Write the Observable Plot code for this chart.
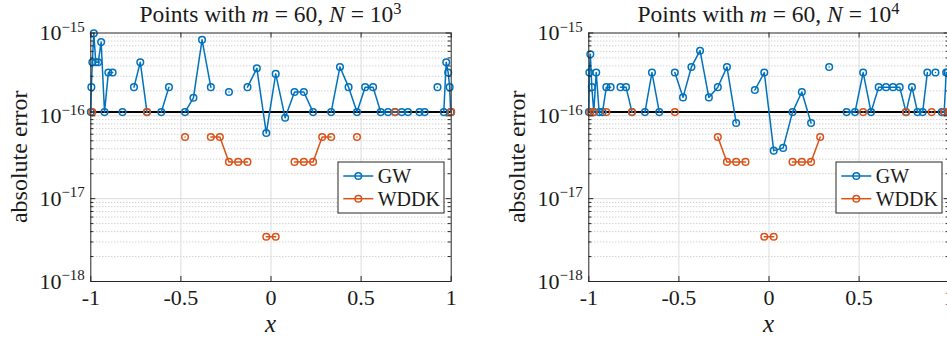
<!DOCTYPE html>
<html><head><meta charset="utf-8">
<script src="https://cdn.jsdelivr.net/npm/d3@7"></script>
<script src="https://cdn.jsdelivr.net/npm/@observablehq/plot@0.6"></script>
<style>
html,body{margin:0;padding:0;background:#fff;overflow:hidden;}
#wrap{position:relative;width:947px;height:339px;overflow:hidden;background:#fff;}
#wrap svg{position:absolute;top:0;max-width:none !important;}
#wrap svg text, #wrap svg tspan{font-family:'Liberation Serif','Times New Roman',serif !important;}
</style></head><body><div id="wrap"></div>
<script>
const _ = null; // zero error: not drawn on a log axis

// 60 evaluation points (ascending)
const nodes = [-0.99966,-0.99692,-0.99144,-0.98325,-0.97237,-0.95882,-0.94264,-0.92388,-0.90259,-0.87882,
  -0.85264,-0.82413,-0.79335,-0.76041,-0.72537,-0.68835,-0.64945,-0.60876,-0.56641,-0.52250,
  -0.47716,-0.43051,-0.38268,-0.33381,-0.28402,-0.23345,-0.18224,-0.13053,-0.07846,-0.02618,
  0.02618,0.07846,0.13053,0.18224,0.23345,0.28402,0.33381,0.38268,0.43051,0.47716,
  0.52250,0.56641,0.60876,0.64945,0.68835,0.72537,0.76041,0.79335,0.82413,0.85264,
  0.87882,0.90259,0.92388,0.94264,0.95882,0.97237,0.98325,0.99144,0.99692,0.99966];

// Panel 1: N = 10^3
const gwN3 = [1.11e-16,2.22e-16,4.44e-16,9.9e-16,4.44e-16,4.44e-16,7.77e-16,1.11e-16,3.33e-16,3.33e-16,
  _,1.11e-16,_,2.22e-16,4.44e-16,1.11e-16,_,1.11e-16,2.22e-16,_,
  1.11e-16,1.65e-16,8.27e-16,2.22e-16,_,1.94e-16,_,2.22e-16,3.75e-16,6.2e-17,
  3.21e-16,9.5e-17,1.94e-16,1.94e-16,1.11e-16,_,1.11e-16,3.89e-16,2.22e-16,1.11e-16,
  2.22e-16,2.22e-16,1.11e-16,1.11e-16,1.11e-16,1.11e-16,1.11e-16,_,1.11e-16,1.11e-16,
  _,_,2.22e-16,_,1.11e-16,4.44e-16,3.33e-16,2.22e-16,1.11e-16,1.11e-16];
const wddkN3 = [_,_,1.11e-16,_,_,_,_,_,_,_,
  _,_,_,_,_,1.11e-16,_,_,_,_,
  5.55e-17,_,_,5.55e-17,5.55e-17,2.78e-17,2.78e-17,2.78e-17,_,3.47e-18,
  3.47e-18,_,2.78e-17,2.78e-17,2.78e-17,5.55e-17,5.55e-17,_,_,5.55e-17,
  _,_,_,_,1.11e-16,_,_,_,_,_,
  _,_,_,_,_,_,_,_,_,1.11e-16];

// Panel 2: N = 10^4
const gwN4 = [1.11e-16,3.33e-16,5.55e-16,2.22e-16,1.11e-16,3.33e-16,1.11e-16,1.11e-16,2.22e-16,2.22e-16,
  _,2.22e-16,2.22e-16,1.11e-16,_,1.11e-16,3.33e-16,1.11e-16,_,3.33e-16,
  1.67e-16,3.89e-16,6.11e-16,1.67e-16,2.22e-16,3.89e-16,8.2e-17,_,2.05e-16,3.33e-16,
  3.8e-17,4.1e-17,1.11e-16,1.94e-16,8.2e-17,_,3.89e-16,_,1.11e-16,1.11e-16,
  3.33e-16,1.11e-16,2.22e-16,2.22e-16,2.22e-16,2.22e-16,1.11e-16,2.22e-16,1.11e-16,1.11e-16,
  3.33e-16,_,3.33e-16,_,1.11e-16,1.11e-16,3.33e-16,3.33e-16,1.11e-16,1.11e-16];
const wddkN4 = [_,_,1.11e-16,_,1.11e-16,_,_,_,1.11e-16,_,
  _,_,_,1.11e-16,_,_,_,_,_,1.11e-16,
  _,_,_,_,5.55e-17,2.78e-17,2.78e-17,2.78e-17,_,3.47e-18,
  3.47e-18,_,2.78e-17,2.78e-17,2.78e-17,5.55e-17,_,_,_,_,
  1.11e-16,_,_,_,_,_,1.11e-16,_,_,_,
  _,1.11e-16,_,_,_,1.11e-16,_,_,_,1.11e-16];

const refLevel = 1.11e-16;            // black reference line
const seriesNames = ["GW", "WDDK"];
const seriesColors = ["#0072BD", "#D95319"];
const panelN = ["3", "4"];
const xTicks = [-1, -0.5, 0, 0.5, 1];
const xTickLabels = ["-1", "-0.5", "0", "0.5", "1"];
const yDecades = [1e-18, 1e-17, 1e-16, 1e-15];
const yMinor = [2e-18,3e-18,4e-18,5e-18,6e-18,7e-18,8e-18,9e-18,
  2e-17,3e-17,4e-17,5e-17,6e-17,7e-17,8e-17,9e-17,
  2e-16,3e-16,4e-16,5e-16,6e-16,7e-16,8e-16,9e-16];

const FONT = "'Liberation Serif', 'Times New Roman', serif";
const AX = "#262626";

function panel(gw, wddk, nExp, leftPx) {
  const W = 470, H = 339, mL = 90.3, mR = 19.3, mT = 32.5, mB = 58;
  const pw = W - mL - mR, ph = H - mT - mB;
  const rows = arr => nodes.map((x, i) => ({x, y: arr[i]}));
  const svgNode = Plot.plot({
    width: W, height: H, marginLeft: mL, marginRight: mR, marginTop: mT, marginBottom: mB,
    style: {fontFamily: FONT, fontSize: "21px", color: AX, background: "transparent", overflow: "visible"},
    x: {domain: [-1, 1]},
    y: {type: "log", domain: [1e-18, 1e-15]},
    marks: [
      Plot.ruleY(yMinor, {stroke: "#bdbdbd", strokeDasharray: "1,2", strokeWidth: 1}),
      Plot.ruleY(yDecades.slice(1, 3), {stroke: "#dcdcdc"}),
      Plot.ruleX([-0.5, 0, 0.5], {stroke: "#dcdcdc"}),
      Plot.ruleY([refLevel], {stroke: "#000", strokeWidth: 2}),
      Plot.line(rows(gw), {x: "x", y: "y", stroke: seriesColors[0], strokeWidth: 1.5}),
      Plot.dot(rows(gw), {x: "x", y: "y", r: 3.3, stroke: seriesColors[0], strokeWidth: 1.5, fill: "none"}),
      Plot.line(rows(wddk), {x: "x", y: "y", stroke: seriesColors[1], strokeWidth: 1.5}),
      Plot.dot(rows(wddk), {x: "x", y: "y", r: 3.3, stroke: seriesColors[1], strokeWidth: 1.5, fill: "none"}),
      Plot.frame({stroke: AX, strokeWidth: 1}),
      // inward ticks
      Plot.ruleY(yDecades, {stroke: AX, insetRight: pw - 5}),
      Plot.ruleY(yDecades, {stroke: AX, insetLeft: pw - 5}),
      Plot.ruleY(yMinor, {stroke: AX, insetRight: pw - 3}),
      Plot.ruleY(yMinor, {stroke: AX, insetLeft: pw - 3}),
      Plot.ruleX(xTicks, {stroke: AX, insetTop: ph - 5}),
      Plot.ruleX(xTicks, {stroke: AX, insetBottom: ph - 5}),
      Plot.axisX(xTicks, {tickSize: 0, tickPadding: 8, label: null, fill: "#1a1a1a", fontSize: 22,
        tickFormat: d => xTickLabels[xTicks.indexOf(d)]}),
      Plot.axisY(yDecades, {tickSize: 0, tickPadding: 6, label: null, fill: "#1a1a1a", fontSize: 22,
        tickFormat: d => "10^" + Math.round(Math.log10(d))})
    ]
  });
  const svg = d3.select(svgNode);
  svg.style("left", leftPx + "px").attr("font-family", FONT);
  // superscript exponents on y tick labels
  svg.selectAll('g[aria-label="y-axis tick label"] text').each(function () {
    const t = d3.select(this);
    const [b, e] = t.text().split("^");
    t.text(b);
    t.append("tspan").attr("dy", "-0.55em").attr("font-size", "0.68em").text(e.replace("-", "\u2212"));
  });
  const g = svg.append("g").attr("fill", "#1a1a1a").attr("font-family", FONT);
  // title
  const title = g.append("text").attr("x", mL + pw / 2).attr("y", 22).attr("text-anchor", "middle").attr("font-size", 23.5);
  title.append("tspan").text("Points with ");
  title.append("tspan").attr("font-style", "italic").text("m");
  title.append("tspan").text(" = 60, ");
  title.append("tspan").attr("font-style", "italic").text("N");
  title.append("tspan").text(" = 10");
  title.append("tspan").attr("dy", "-0.5em").attr("font-size", "0.7em").text(nExp);
  // y label
  g.append("text").attr("transform", `translate(26.5,${mT + ph / 2}) rotate(-90)`)
    .attr("text-anchor", "middle").attr("font-size", 24).text("absolute error");
  // x label
  g.append("text").attr("x", mL + pw / 2).attr("y", 332).attr("text-anchor", "middle")
    .attr("font-size", 25).attr("font-style", "italic").text("x");
  // legend
  const lx = mL + pw - 6.7 - 106, ly = 162;
  const lg = svg.append("g");
  lg.append("rect").attr("x", lx).attr("y", ly).attr("width", 106).attr("height", 51)
    .attr("fill", "#fff").attr("stroke", AX).attr("stroke-width", 1);
  seriesNames.forEach((name, i) => {
    const cy = ly + 14 + i * 22.7;
    lg.append("line").attr("x1", lx + 5.3).attr("x2", lx + 35.3).attr("y1", cy).attr("y2", cy)
      .attr("stroke", seriesColors[i]).attr("stroke-width", 1.5);
    lg.append("circle").attr("cx", lx + 20.3).attr("cy", cy).attr("r", 3.3)
      .attr("fill", "none").attr("stroke", seriesColors[i]).attr("stroke-width", 1.5);
    lg.append("text").attr("x", lx + 39.7).attr("y", cy).attr("dy", "0.34em").attr("text-anchor", "start")
      .attr("font-size", 20).attr("fill", "#1a1a1a").text(name);
  });
  document.getElementById("wrap").appendChild(svgNode);
}

panel(gwN3, wddkN3, panelN[0], 0);
panel(gwN4, wddkN4, panelN[1], 498);
</script></body></html>
